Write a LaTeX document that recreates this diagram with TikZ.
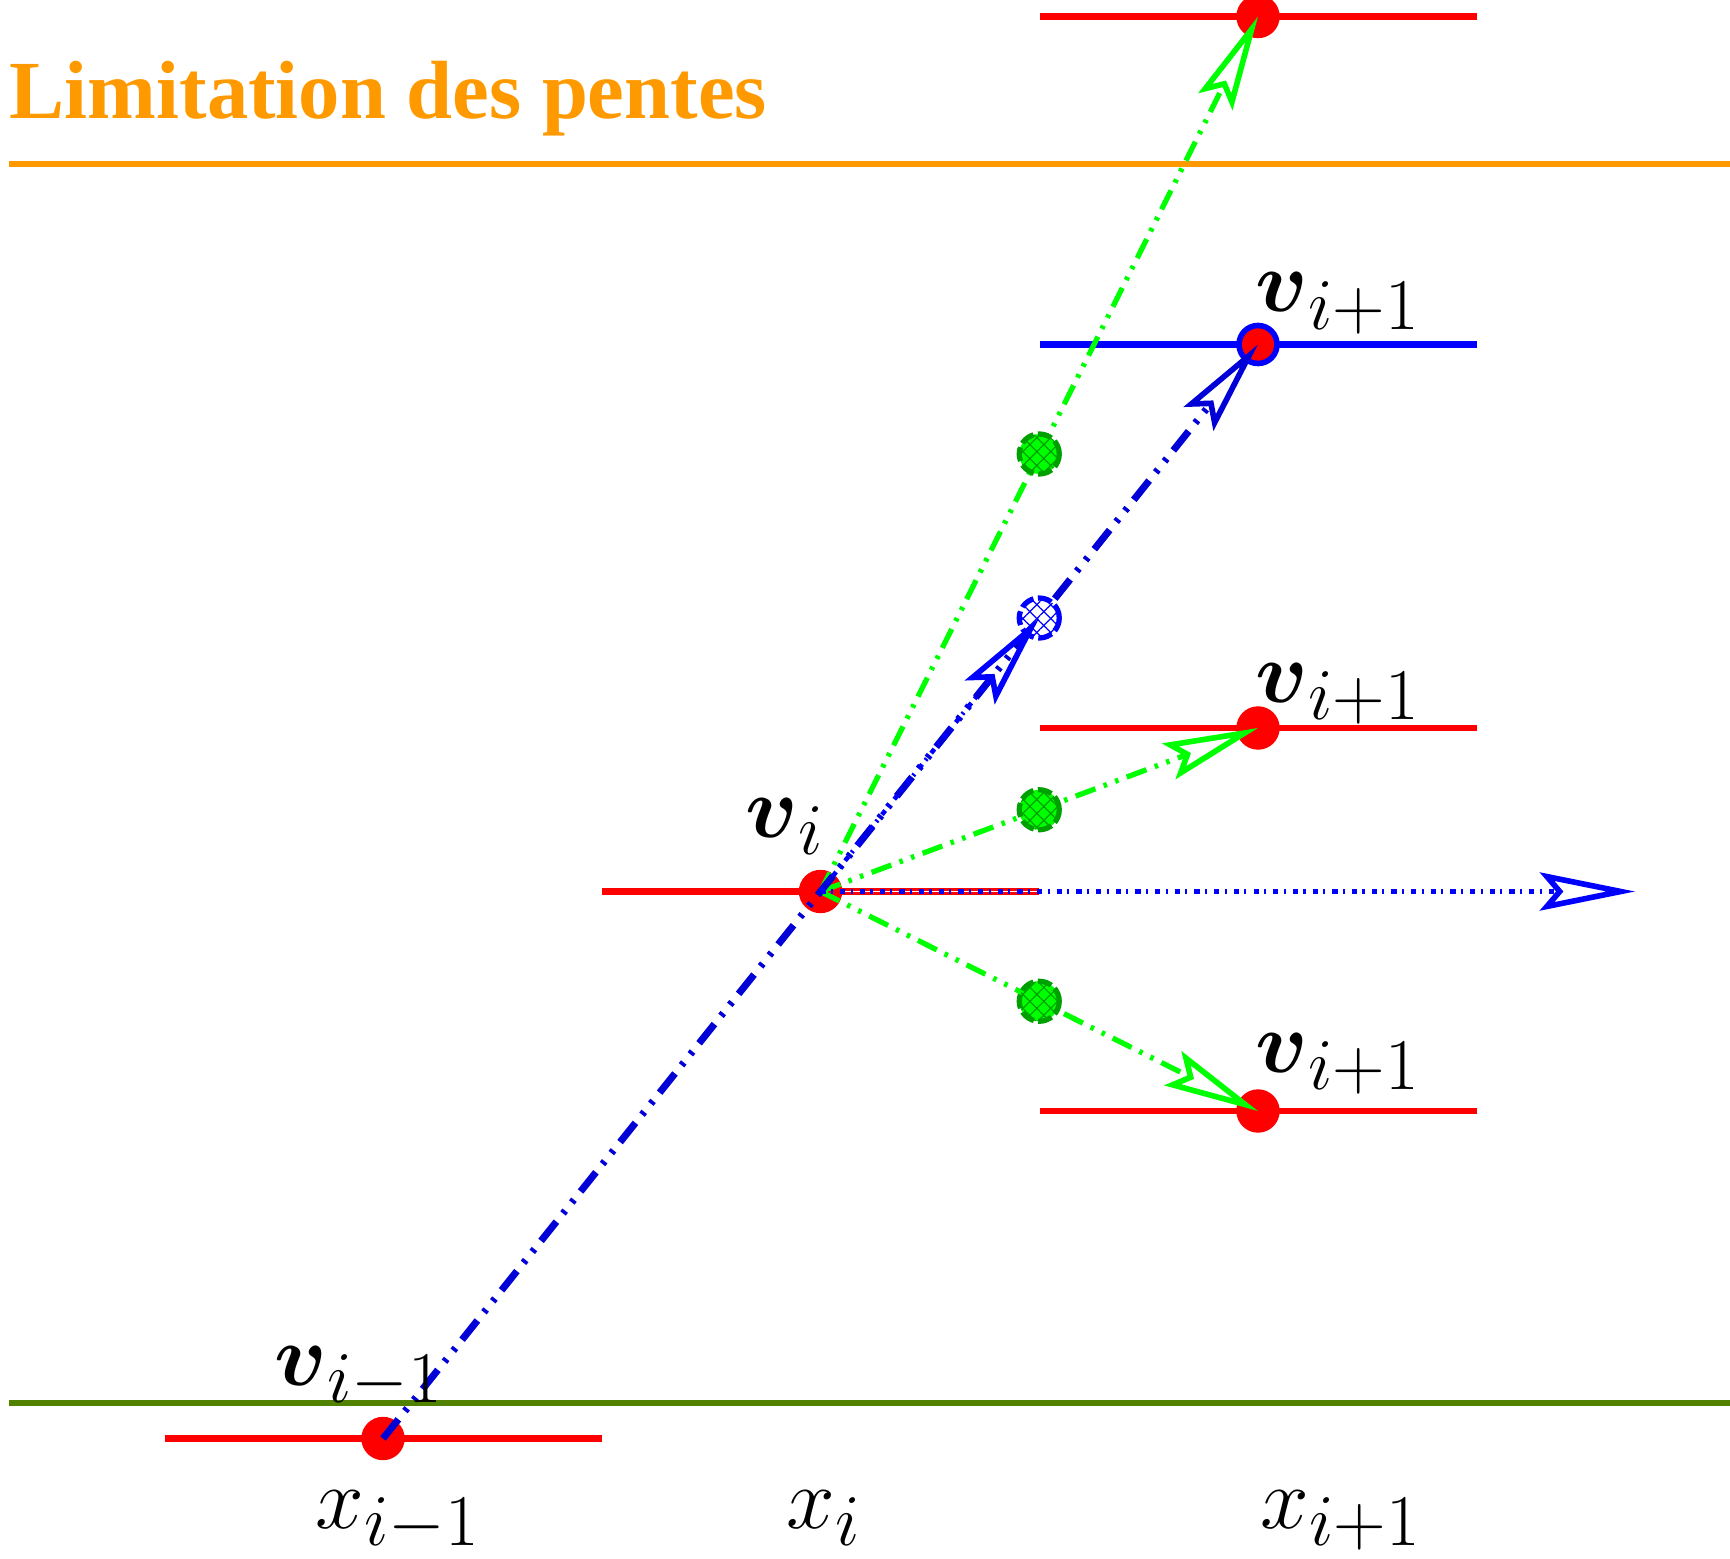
\documentclass[tikz,border=0pt]{standalone}
\usepackage{amsmath}
\usepackage{fontspec}
\newfontfamily\titlefont{Liberation Serif}
\usepackage{tikz}
\usetikzlibrary{calc,arrows.meta,patterns.meta}
\definecolor{limorange}{RGB}{255,153,0}
\definecolor{limgreen}{RGB}{80,130,0}
\definecolor{rayblue}{RGB}{0,0,215}
\definecolor{hatchgreen}{RGB}{0,160,0}

\begin{document}
\begin{tikzpicture}[
  level/.style={red, line width=1.8pt},
  bound/.style={line width=1.7pt},
  valdot/.style={fill=red},
  openhead/.style={-{Stealth[open, length=9.5mm, width=3.8mm, inset=1.6mm, line width=1.6pt]}},
  greenray/.style={green, line width=1.5pt, openhead,
    dash pattern=on 6pt off 2.5pt on 1pt off 2.5pt on 1pt off 2.5pt},
  blueray/.style={rayblue, line width=2pt, openhead,
    dash pattern=on 7pt off 3pt on 1pt off 3pt on 1pt off 3pt},
  bluedots/.style={blue, line width=1.3pt, openhead,
    dash pattern=on 1.5pt off 1.5pt on 0.6pt off 2pt},
  hatch/.style={postaction={pattern={Lines[angle=45, distance=2.8pt, line width=0.35pt]}, pattern color=#1},
    postaction={pattern={Lines[angle=-45, distance=2.8pt, line width=0.35pt]}, pattern color=#1}},
  midgreen/.style={fill=green, draw=hatchgreen, line width=1.5pt,
    dash pattern=on 4pt off 1.3pt, hatch=hatchgreen},
  midblue/.style={fill=white, draw=blue, line width=1.5pt,
    dash pattern=on 4pt off 1.3pt, hatch=blue},
  vlabel/.style={anchor=base west, inner sep=0pt, font=\fontsize{27.2}{32}\selectfont},
]
\useasboundingbox (0,0) rectangle (17.30,15.58);

% values
\coordinate (vim) at (3.83, 1.195);
\coordinate (vi) at (8.205, 6.665);
\coordinate (vtop) at (12.58, 15.415);
\coordinate (vblue) at (12.58, 12.135);
\coordinate (vup) at (12.58, 8.30);
\coordinate (vdown) at (12.58, 4.47);
\coordinate (vright) at (10.39, 6.665);
\coordinate (hend) at (16.35, 6.665);
\coordinate (mtop) at ($(vi)!0.5!(vtop)$);
\coordinate (mblue) at ($(vi)!0.5!(vblue)$);
\coordinate (mup) at ($(vi)!0.5!(vup)$);
\coordinate (mdown) at ($(vi)!0.5!(vdown)$);

% title and bounds
\node[anchor=base west, inner sep=0pt, text=limorange,
  font=\titlefont\bfseries\fontsize{23.5}{28}\selectfont] (title) at (0.09, 14.39) {Limitation des pentes};
\draw[bound, limorange] (0.09, 13.94) -- (17.40, 13.94);
\draw[bound, limgreen] (0.09, 1.55) -- (17.40, 1.55);

% levels
\draw[level] ($(vim)+(-2.185,0)$) -- ($(vim)+(2.185,0)$);
\draw[level] ($(vi)+(-2.185,0)$) -- (vright);
\draw[white, line width=0.5pt] (vi) -- (vright);
\foreach \p in {vtop, vup, vdown}
  \draw[level] ($(\p)+(-2.185,0)$) -- ($(\p)+(2.185,0)$);
\draw[level, blue] ($(vblue)+(-2.185,0)$) -- ($(vblue)+(2.185,0)$);

% dots
\foreach \p in {vim, vi, vtop, vup, vdown}
  \fill[valdot] (\p) circle (0.217);
\filldraw[valdot, draw=blue, line width=1.6pt] (vblue) circle (0.19);

% green slopes
\draw[greenray] (vi) -- (vtop);
\draw[greenray] (vi) -- (vup);
\draw[greenray] (vi) -- (vdown);
\foreach \p in {mtop, mup, mdown}
  \path[midgreen] (\p) circle (0.2);

% blue slopes
\draw[blueray] (vim) -- (vblue);
\path[midblue] (mblue) circle (0.2);
\draw[bluedots] (vi) -- (mblue);
\draw[bluedots] (vi) -- (hend);

% labels
\node[vlabel] (lvim) at (2.74, 1.73) {$\boldsymbol{v}_{i-1}$};
\node[vlabel] (lvi) at (7.45, 7.21) {$\boldsymbol{v}_{i}$};
\node[vlabel] (lblue) at (12.55, 12.46) {$\boldsymbol{v}_{i+1}$};
\node[vlabel] (lup) at (12.55, 8.56) {$\boldsymbol{v}_{i+1}$};
\node[vlabel] (ldown) at (12.55, 4.86) {$\boldsymbol{v}_{i+1}$};
\node[vlabel] (xim) at (3.15, 0.30) {$x_{i-1}$};
\node[vlabel, anchor=base] (xi) at (8.24, 0.30) {$x_{i}$};
\node[vlabel] (xip) at (12.60, 0.30) {$x_{i+1}$};

\end{tikzpicture}
\end{document}
